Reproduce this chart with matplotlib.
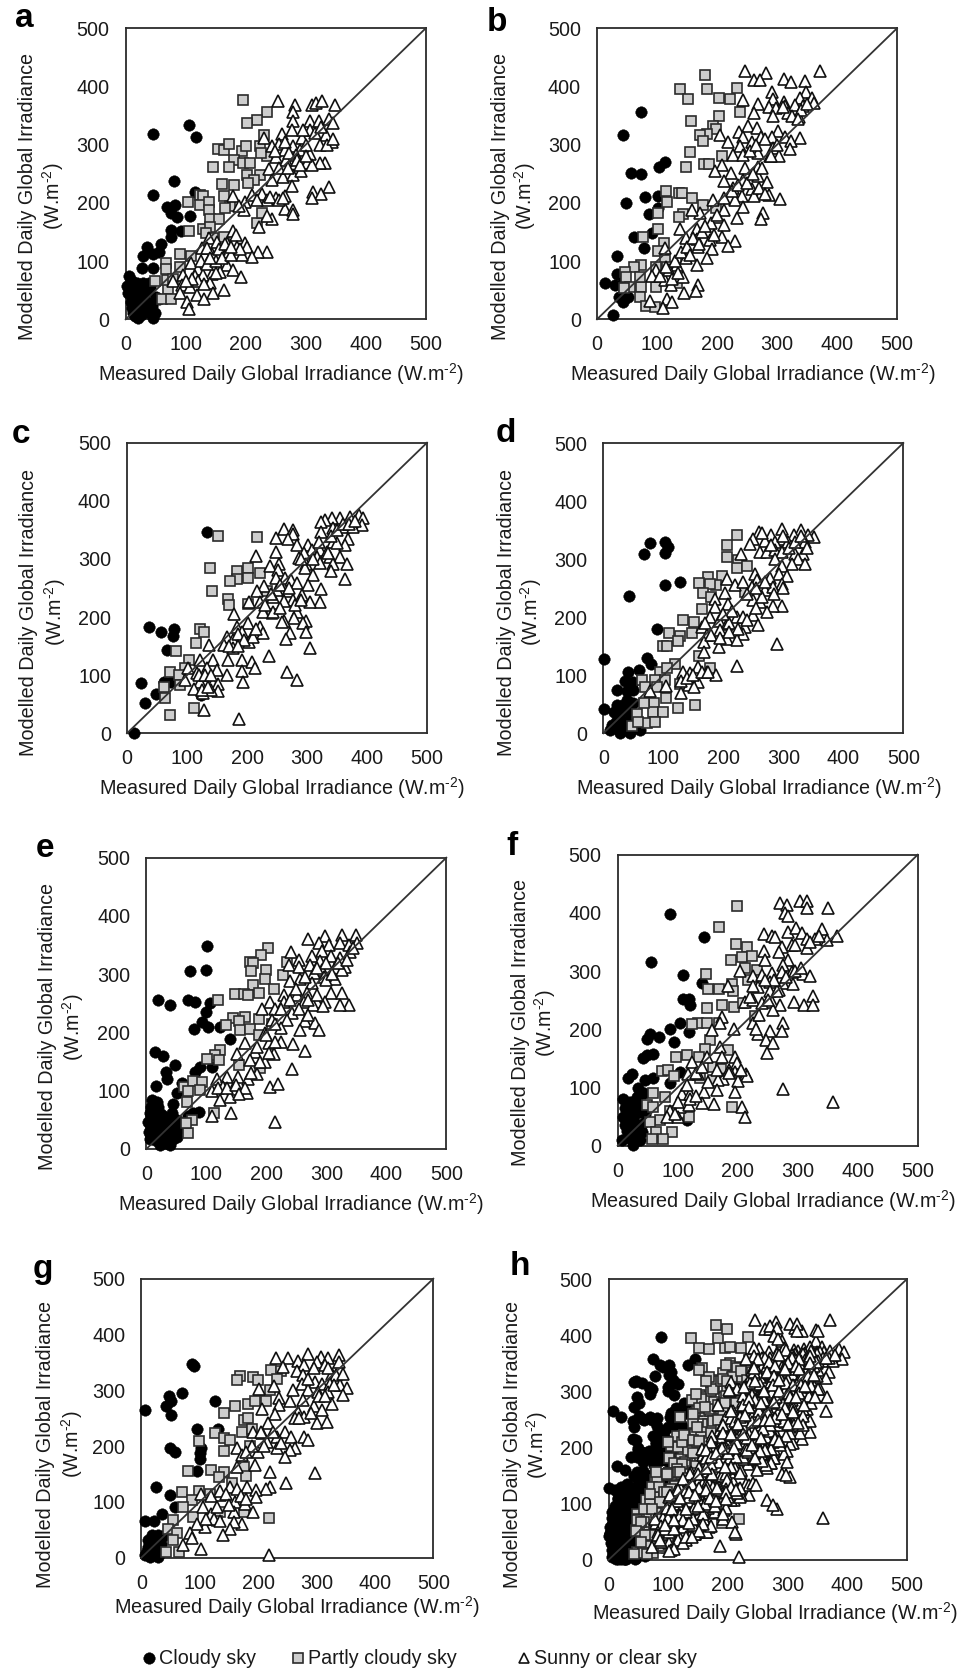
"""
Measured vs modelled daily global irradiance, eight panels by sky type
"""

import matplotlib
matplotlib.use("Agg")
import matplotlib.pyplot as plt
from matplotlib.lines import Line2D

plt.rcParams["font.family"] = ["Liberation Sans", "DejaVu Sans"]
plt.rcParams["mathtext.fontset"] = "custom"
plt.rcParams["mathtext.rm"] = "Liberation Sans"
plt.rcParams["mathtext.default"] = "rm"

W, H = 973, 1671

# (measured, modelled)
a_cloudy = [(46,318),(105,334),(117,314),(81,238),(45,214),(115,219),(68,193),(82,196),(76,182),(85,176),(107,177),
            (75,153),(76,141),(92,152),(36,125),(58,129),(29,109),(46,113),(56,115),(27,88),(45,88),(6,74),(5,58),(8,48),
            (10,65),(12,40),(15,55),(18,62),(20,45),(22,30),(25,55),(28,62),(30,40),(32,58),(35,48),(38,62),(40,55),(15,25),
            (18,15),(22,20),(16,5),(20,2),(25,8),(30,15),(35,12),(38,20),(42,15),(45,3),(48,10),(44,22),(10,20),(12,10),
            (28,30),(35,30),(50,38),(55,35),(8,30),(2,58),(3,45)]
a_partly = [(195,377),(235,356),(218,343),(202,337),(230,317),(154,293),(163,291),(172,301),(194,290),(200,297),(224,298),
            (235,281),(225,285),(181,273),(172,262),(146,261),(196,268),(207,268),(202,248),(224,248),(213,240),(203,234),
            (160,232),(181,230),(124,214),(129,211),(104,202),(124,196),(139,201),(163,211),(174,194),(166,191),(138,188),
            (140,172),(156,172),(218,165),(227,182),(221,205),(129,156),(140,159),(133,148),(105,152),(163,141),(146,139),
            (91,112),(108,108),(67,96),(67,86),(91,90),(49,65),(71,52),(60,35),(75,35),(68,68),(79,70)]
a_sunny = [(253,375),(282,368),(311,368),(317,372),(327,375),(349,368),(278,357),(278,341),(307,341),(322,340),(338,344),
           (346,338),(277,325),(260,318),(307,325),(293,311),(334,317),(343,305),(324,300),(231,311),(243,297),(256,301),
           (279,297),(291,291),(307,284),(266,291),(283,282),(251,279),(267,274),(285,274),(302,268),(332,268),(324,268),
           (310,265),(238,258),(262,245),(279,248),(292,254),(243,239),(277,229),(338,228),(312,219),(325,215),(310,208),
           (266,211),(251,208),(179,211),(199,202),(210,214),(227,216),(235,205),(218,205),(197,188),(188,195),(266,189),
           (278,188),(278,181),(243,172),(235,177),(222,158),(178,151),(184,145),(138,139),(127,122),(152,133),(168,131),
           (198,131),(185,125),(202,125),(235,115),(221,116),(210,107),(193,111),(168,116),(143,113),(135,122),(108,96),
           (121,86),(143,78),(168,93),(179,85),(192,73),(157,82),(129,76),(96,76),(79,65),(93,59),(107,56),(140,62),(163,50),
           (118,42),(130,35),(145,46),(90,45),(102,30),(105,17),
           (115,75),(125,100),(135,95),(150,100),(155,120),(160,105),(175,110),(190,120),(150,80),(140,105),(120,65),(110,70),
           (100,65),(130,60),(165,130),(175,125),(255,260),(270,260),(290,265),(300,300),(315,320),(325,330),(335,300),
           (345,310),(295,325),(265,305),(248,290),(300,280),(272,285),(240,210),(255,205),(262,208)]

b_cloudy = [(74,357),(43,316),(57,251),(73,250),(113,271),(104,261),(49,200),(80,210),(101,212),(86,181),(102,191),(61,141),
            (91,148),(79,122),(33,109),(33,78),(13,62),(30,59),(36,39),(44,30),(52,39),(26,7),(44,73)]
b_partly = [(180,419),(138,395),(184,395),(151,378),(204,380),(222,378),(234,397),(238,357),(156,341),(203,350),(194,332),
            (199,327),(183,319),(172,317),(177,307),(155,287),(149,262),(178,267),(186,267),(208,281),(115,221),(136,217),
            (141,217),(158,209),(117,201),(177,197),(198,192),(144,181),(137,175),(102,182),(102,155),(77,142),(112,131),
            (102,118),(74,93),(61,90),(47,82),(49,72),(74,56),(55,56),(45,53),(71,39),(81,22),(97,21),(113,102),(99,56),
            (116,90),(133,62),(149,105),(72,73),(99,90)]
b_sunny = [(246,427),(281,423),(371,427),(262,411),(271,411),(312,413),(324,408),(347,410),(291,390),(348,390),(243,377),
           (294,378),(311,374),(338,380),(358,380),(362,371),(269,370),(286,364),(299,363),(313,366),(330,368),(344,366),
           (261,354),(294,350),(319,354),(336,348),(252,332),(266,329),(236,321),(301,324),(244,313),(205,316),(274,314),
           (291,314),(313,314),(338,311),(324,307),(218,304),(258,305),(238,297),(294,294),(322,292),(226,283),(244,283),
           (269,285),(288,280),(304,281),(208,265),(196,254),(247,260),(269,262),(224,251),(212,237),(244,240),(269,247),
           (227,225),(258,224),(283,236),(286,214),(305,207),(241,211),(261,211),(230,205),(194,205),(211,208),(277,182),
           (273,172),(244,193),(233,174),(212,188),(172,183),(158,187),(202,176),(212,162),(138,156),(166,156),(183,152),
           (149,139),(166,138),(188,136),(208,141),(230,135),(218,126),(113,123),(192,120),(169,124),(149,105),(183,105),
           (166,93),(133,93),(144,73),(99,85),(91,74),(113,68),(124,59),(169,59),(165,49),(145,45),(116,35),(88,32),(125,29),
           (110,19),
           (120,85),(130,100),(140,115),(150,125),(160,140),(175,150),(190,165),(200,180),(125,70),(135,80),(105,75),(115,90),
           (155,110),(170,130),(180,160),(195,145),(225,220),(235,230),(250,235),(260,250),(270,225),(280,215),(255,290),
           (265,300),(280,310),(300,300),(290,280),(275,260),(310,365),(325,350),(340,360),(350,370),(335,345)]

c_cloudy = [(133,347),(37,183),(57,174),(79,180),(76,168),(66,144),(24,86),(61,89),(74,89),(49,67),(30,52),(12,1),(124,66)]
c_partly = [(152,339),(216,337),(139,285),(202,285),(184,279),(222,276),(184,265),(201,268),(172,262),(142,244),(168,231),
            (170,221),(233,244),(202,223),(241,205),(122,180),(128,175),(115,156),(81,142),(104,126),(72,106),(97,112),
            (86,100),(61,79),(64,60),(71,31),(111,44),(88,83)]
c_sunny = [(386,375),(394,370),(372,372),(355,370),(341,370),(330,367),(324,364),(391,358),(361,355),(344,354),(377,355),
           (323,347),(262,351),(277,350),(249,336),(277,343),(269,335),(369,335),(344,330),(283,324),(302,324),(364,324),
           (350,327),(308,315),(322,315),(333,312),(295,310),(215,305),(249,312),(286,301),(355,304),(338,304),(316,304),
           (299,292),(366,291),(344,292),(322,293),(340,280),(297,284),(310,272),(254,292),(238,287),(252,281),(364,265),
           (228,253),(249,267),(263,267),(273,264),(283,258),(302,255),(323,248),(250,246),(269,244),(216,244),(291,238),
           (244,235),(222,226),(204,226),(277,229),(321,226),(305,226),(261,228),(227,208),(244,209),(179,205),(283,209),
           (278,198),(261,194),(258,192),(299,193),(294,189),(299,175),(272,173),(265,163),(305,147),(183,183),(202,189),
           (222,183),(191,175),(211,172),(227,172),(166,166),(177,160),(204,157),(136,152),(161,152),(177,146),(236,133),
           (144,126),(122,126),(169,126),(191,126),(209,122),(214,113),(191,108),(166,100),(266,106),(283,91),(193,88),
           (102,112),(133,112),(150,109),(116,103),(97,92),(122,89),(144,86),(111,77),(152,85),(151,72),(127,69),(140,74),
           (129,40),(186,25),
           (210,165),(215,180),(185,170),(195,160),(170,150),(185,150),(120,100),(130,100),(140,100),(125,75),(135,80),
           (340,340),(350,350),(360,360),(370,360),(380,365),(335,310),(310,300),(320,330),(290,300),(255,255),(270,250),
           (240,240),(230,220),(255,215),(280,220),(290,230)]

d_cloudy = [(78,327),(102,330),(108,321),(67,308),(103,311),(128,261),(103,255),(42,237),(90,179),(1,128),(72,130),(80,119),
            (41,106),(60,109),(36,90),(50,89),(23,74),(39,72),(50,74),(22,49),(1,42),(39,57),(33,49),(17,37),(28,34),(42,40),
            (50,52),(14,14),(22,9),(28,1),(39,9),(44,1),(33,20),(50,14),(61,6),(22,23),(11,6),(44,26),(53,32),(31,6)]
d_partly = [(222,342),(206,324),(206,304),(225,298),(223,284),(239,289),(175,270),(197,271),(160,259),(188,256),(178,258),
            (166,242),(179,235),(236,243),(164,214),(133,196),(151,192),(110,172),(128,168),(148,173),(124,159),(100,151),
            (106,151),(159,133),(119,120),(178,112),(94,106),(106,112),(65,91),(86,91),(103,92),(128,85),(69,79),(89,79),
            (104,60),(84,53),(125,43),(153,48),(82,37),(100,36),(56,34),(72,17),(86,20),(47,13),(58,20),(67,52)]
d_sunny = [(259,347),(297,352),(329,351),(250,335),(279,342),(351,338),(341,341),(317,341),(270,332),(297,335),(244,326),
           (286,330),(307,330),(336,330),(261,312),(272,312),(286,315),(230,308),(297,312),(333,309),(319,309),(286,301),
           (325,301),(314,292),(336,292),(297,289),(253,275),(292,275),(306,271),(206,266),(219,255),(233,261),(256,264),
           (278,267),(297,258),(203,241),(247,252),(269,246),(283,252),(208,223),(186,232),(250,229),(261,226),(297,220),
           (283,220),(272,209),(186,218),(222,200),(233,200),(250,203),(178,200),(192,194),(206,189),(258,186),(236,183),
           (233,171),(164,183),(194,178),(172,169),(206,163),(222,160),(192,149),(167,158),(290,153),(167,140),(222,116),
           (158,114),(133,106),(144,103),(172,106),(188,101),(158,89),(142,83),(104,81),(129,69),(151,79),(78,72),
           (130,90),(140,95),(150,100),(165,105),(175,105),(210,190),(225,180),(240,195),(255,215),(265,235),(240,240),
           (255,250),(270,260),(285,240),(300,250),(310,320),(320,330),(300,340),(265,345),(280,325),(330,340),(340,320),
           (215,210),(200,205),(170,190),(180,170),(195,165),(210,175)]

e_cloudy = [(101,348),(73,305),(100,308),(20,255),(40,248),(70,255),(81,253),(106,250),(100,236),(92,218),(80,206),(103,210),
            (123,210),(139,188),(14,167),(27,160),(47,145),(32,132),(34,121),(89,141),(81,133),(109,141),(16,108),(59,113),
            (51,96),(9,84),(17,81),(45,78),(6,61),(17,64),(28,56),(3,47),(12,44),(23,44),(37,44),(51,50),(12,30),(23,27),
            (34,30),(48,33),(6,18),(23,7),(39,7),(31,15),(45,18),(14,15),(87,64),(78,61),(62,44),(70,56),(51,21),
            (8,72),(20,72),(30,40),(42,62),(4,30),(25,60),(18,35),(33,10),(15,52),(40,55),(55,35)]
e_partly = [(203,345),(191,333),(173,321),(177,319),(234,321),(175,305),(199,308),(227,298),(197,292),(177,282),(212,274),
            (148,266),(162,266),(170,265),(188,268),(119,255),(164,227),(145,225),(187,223),(133,213),(155,219),(156,205),
            (173,206),(209,214),(188,196),(123,170),(114,162),(101,154),(121,153),(155,144),(189,139),(62,106),(77,116),
            (92,115),(70,99),(89,101),(67,80),(76,50),(113,61),(70,27),(66,44)]
e_sunny = [(270,360),(298,366),(326,367),(349,367),(287,354),(304,351),(351,354),(323,354),(337,351),(241,338),(276,332),
           (293,339),(308,332),(339,338),(254,325),(289,322),(323,328),(237,315),(254,313),(272,316),(293,308),(331,313),
           (314,311),(280,302),(239,288),(256,292),(276,285),(314,292),(326,308),(296,296),(229,265),(251,265),(268,268),
           (307,268),(326,268),(337,248),(323,248),(298,253),(284,253),(206,252),(229,253),(262,253),(278,248),(295,245),
           (192,240),(214,240),(242,233),(234,222),(264,219),(281,216),(209,222),(225,207),(256,205),(288,205),(197,199),
           (164,182),(204,182),(225,183),(244,180),(214,183),(181,167),(212,163),(264,169),(151,163),(172,153),(197,149),
           (242,137),(184,129),(117,121),(134,123),(153,123),(170,121),(128,107),(145,103),(167,96),(109,99),(206,106),
           (220,112),(139,90),(123,84),(141,61),(109,56),(214,46),
           (120,105),(135,105),(150,110),(165,105),(155,95),(175,130),(190,150),(205,165),(185,175),(200,195),(215,215),
           (240,255),(255,240),(270,255),(285,265),(300,290),(310,300),(320,320),(335,325),(345,345),(300,320),(285,310),
           (265,295),(250,275),(270,230),(225,240)]

f_cloudy = [(87,398),(144,358),(56,315),(109,293),(140,280),(109,252),(119,252),(121,242),(103,210),(87,200),(118,196),
            (48,184),(54,192),(68,186),(94,178),(42,150),(48,156),(58,158),(23,124),(17,117),(46,113),(59,116),(104,127),
            (87,107),(34,99),(9,81),(32,84),(43,90),(12,64),(26,67),(18,50),(32,56),(12,36),(26,33),(40,38),(7,10),(18,13),
            (26,1),(37,10),(32,18),(115,44),(40,24),(8,50),(20,75),(35,72),(25,45),(16,25),(45,55),(38,90),(28,20)]
f_partly = [(198,411),(168,375),(197,347),(216,342),(207,325),(188,319),(224,326),(212,305),(147,295),(232,302),(190,277),
            (192,265),(151,270),(169,269),(217,285),(148,236),(173,241),(194,239),(209,245),(229,222),(134,211),(123,209),
            (148,210),(168,211),(154,182),(146,167),(184,165),(97,152),(116,156),(136,152),(159,135),(172,131),(73,129),
            (84,130),(93,120),(137,116),(159,113),(190,66),(59,90),(48,70),(59,67),(79,84),(119,50),(71,44),(54,41),(63,24),
            (90,24),(75,12),(57,12),(87,60)]
f_sunny = [(271,417),(282,413),(304,421),(316,421),(316,408),(351,408),(278,399),(284,394),(243,363),(257,360),(262,359),
           (283,367),(297,374),(307,365),(340,372),(365,360),(348,353),(315,356),(329,356),(290,344),(315,340),(274,341),
           (244,335),(269,333),(246,319),(284,319),(276,311),(204,300),(226,292),(240,293),(257,296),(274,299),(290,299),
           (309,295),(320,291),(184,275),(234,272),(253,281),(276,280),(292,277),(253,265),(268,268),(326,257),(294,247),
           (311,241),(326,241),(212,247),(226,250),(257,247),(271,241),(259,233),(174,221),(226,210),(276,210),(194,200),
           (171,210),(157,198),(254,197),(273,197),(234,192),(247,182),(258,176),(249,160),(171,170),(196,152),(124,144),
           (149,152),(174,152),(198,142),(214,124),(216,119),(134,124),(176,114),(196,126),(201,112),(117,124),(167,113),
           (276,98),(166,96),(196,92),(143,92),(359,75),(107,88),(121,88),(141,73),(160,72),(207,67),(212,50),(104,67),
           (118,70),(87,60),(101,50),(82,50),
           (120,80),(130,85),(100,75),(95,55),(115,105),(130,125),(140,135),(150,110),(165,130),(185,130),(205,130),(185,125),
           (220,255),(240,245),(250,250),(265,265),(280,290),(295,300),(305,305),(260,285),(245,285),(225,275),(235,225),
           (230,200),(295,345),(320,350),(335,360)]

g_cloudy = [(86,347),(91,343),(7,265),(70,296),(47,290),(51,280),(43,272),(50,256),(127,280),(95,231),(132,231),(49,196),
            (58,190),(103,196),(100,187),(100,176),(96,156),(26,126),(49,113),(100,115),(57,91),(35,78),(7,65),(22,65),
            (18,41),(29,41),(12,32),(23,26),(38,38),(6,5),(15,1),(29,2),(18,11),(26,17),(12,20),(20,33),(30,10),(10,12),(33,25)]
g_partly = [(222,336),(240,335),(169,326),(164,318),(191,323),(199,318),(232,321),(220,300),(161,272),(142,260),(183,275),
            (195,280),(213,280),(175,247),(183,250),(172,226),(189,231),(127,223),(142,214),(152,211),(99,209),(142,191),
            (186,201),(80,156),(119,157),(142,154),(133,145),(175,162),(180,147),(156,133),(69,117),(98,120),(118,115),
            (86,103),(72,91),(175,82),(134,82),(129,65),(219,72),(55,67),(46,51),(61,44),(55,32),(42,11),(65,11),(89,73)]
g_sunny = [(231,358),(251,357),(269,353),(285,365),(308,359),(319,357),(338,364),(338,351),(243,341),(279,345),(300,351),
           (314,345),(266,335),(277,327),(326,330),(334,327),(297,315),(276,311),(227,308),(202,303),(309,312),(323,312),
           (340,309),(352,305),(286,300),(303,297),(320,297),(346,291),(236,287),(255,280),(277,282),(235,273),(206,266),
           (327,275),(295,271),(309,264),(229,258),(268,262),(279,253),(263,250),(300,242),(318,243),(217,242),(246,226),
           (192,226),(206,223),(256,217),(279,216),(286,211),(232,217),(215,208),(164,196),(263,196),(254,193),(246,181),
           (232,196),(200,190),(172,184),(195,166),(164,163),(221,154),(297,151),(247,134),(220,127),(213,124),(152,127),
           (164,124),(181,127),(196,121),(134,112),(103,115),(161,100),(196,109),(178,96),(192,82),(120,79),(158,82),(106,91),
           (172,60),(158,64),(152,51),(140,41),(109,55),(95,61),(83,44),(72,23),(102,16),(219,5),(86,35),
           (120,110),(135,120),(145,115),(170,110),(180,105),(125,70),(135,65),(110,70),(130,90),(150,95),(210,200),(225,225),
           (240,205),(205,225),(190,200),(180,190),(270,250),(290,260),(305,290),(315,290),(330,310),(345,330),(285,320),
           (260,300),(295,340),(320,340)]

# panel h pools the seven sites, plus what could only be read in its dense cloudy column
h_cloudy_more = [(10,125),(20,130),(30,135),(35,125),(45,130),(15,110),(25,105),(35,110),(45,105),(10,95),(20,90),(30,85),
                 (40,95),(50,85),(15,75),(25,70),(35,65),(5,85),(5,30),(45,70),(60,190),(70,180),(75,220),(85,230),(90,200),
                 (110,240),(120,260),(100,300),(60,250),(40,215)]
h_cloudy = a_cloudy + b_cloudy + c_cloudy + d_cloudy + e_cloudy + f_cloudy + g_cloudy + h_cloudy_more
h_partly = a_partly + b_partly + c_partly + d_partly + e_partly + f_partly + g_partly
h_sunny = a_sunny + b_sunny + c_sunny + d_sunny + e_sunny + f_sunny + g_sunny

panel_letters = ["a", "b", "c", "d", "e", "f", "g", "h"]
ticks = [0, 100, 200, 300, 400, 500]
x_title = r"Measured Daily Global Irradiance (W.m$^{\text{-}2}$)"
y_title = "Modelled Daily Global Irradiance"
y_unit = r"(W.m$^{\text{-}2}$)"
legend_names = ["Cloudy sky", "Partly cloudy sky", "Sunny or clear sky"]

cloudy_sets = [a_cloudy, b_cloudy, c_cloudy, d_cloudy, e_cloudy, f_cloudy, g_cloudy, h_cloudy]
partly_sets = [a_partly, b_partly, c_partly, d_partly, e_partly, f_partly, g_partly, h_partly]
sunny_sets = [a_sunny, b_sunny, c_sunny, d_sunny, e_sunny, f_sunny, g_sunny, h_sunny]

# pixels: axes left, right, top, bottom
boxes = [(125.7, 425.7, 28.3, 319.3), (597, 897, 28.3, 319.3), (127, 427, 442.7, 733.3), (603.3, 903.3, 443, 733.3),
         (146.3, 446.3, 857.7, 1149), (617.7, 917.7, 854.7, 1145.7), (141.3, 433.3, 1278.7, 1557.7),
         (608.7, 906.7, 1279.3, 1559.7)]
# pixels: y title x, y unit x, y centre, x title x, x title y, letter x, letter baseline
labels = [(28, 53, 196, 281, 374, 15, 27), (500, 525, 196, 753, 374, 487, 31), (29, 55, 612, 282, 788, 12, 443),
          (506, 531, 612, 759, 788, 496, 442), (48, 73, 1027, 301, 1204, 36, 857), (521, 545, 1023, 773, 1201, 506, 855),
          (46, 72, 1444, 297, 1607, 33, 1278), (512, 537, 1445, 775, 1613, 510, 1275)]

DARK = "#2b2b2b"
GREY = "#cdcdcd"
TXT = "#1a1a1a"
FS = 14.2


def fx(px):
    return px / W


def fy(py):
    return 1 - py / H


def draw_marks(ax, points, marker, **style):
    xs = [p[0] for p in points]
    ys = [p[1] for p in points]
    ax.plot(xs, ys, linestyle="none", marker=marker, clip_on=False, **style)


def main():
    fig = plt.figure(figsize=(W / 100, H / 100), dpi=100)

    for i, letter in enumerate(panel_letters):
        left, right, top, bottom = boxes[i]
        ax = fig.add_axes([fx(left), fy(bottom), (right - left) / W, (bottom - top) / H])
        ax.set_xlim(0, 500)
        ax.set_ylim(0, 500)
        ax.set_xticks(ticks)
        ax.set_yticks(ticks)
        ax.tick_params(length=0, pad=11.5, labelsize=FS, labelcolor=TXT)
        for spine in ax.spines.values():
            spine.set_linewidth(1.3)
            spine.set_color(DARK)

        draw_marks(ax, cloudy_sets[i], "o", ms=8.3, mfc="black", mec="black", mew=0.3, zorder=3)
        draw_marks(ax, partly_sets[i], "s", ms=7.2, mfc=GREY, mec=DARK, mew=1.2, zorder=4)
        draw_marks(ax, sunny_sets[i], "^", ms=8.0, mfc="white", mec="#111111", mew=1.2, zorder=5)
        ax.plot([0, 500], [0, 500], color="#333333", lw=1.3, clip_on=False, zorder=6)

        y_x, unit_x, y_c, x_x, x_y, let_x, let_y = labels[i]
        fig.text(fx(y_x), fy(y_c), y_title, rotation=90, ha="center", va="center", fontsize=FS, color=TXT)
        fig.text(fx(unit_x), fy(y_c), y_unit, rotation=90, ha="center", va="center", fontsize=FS, color=TXT)
        fig.text(fx(x_x), fy(x_y), x_title, ha="center", va="center", fontsize=FS, color=TXT)
        fig.text(fx(let_x), fy(let_y), letter, ha="left", va="baseline", fontsize=24, fontweight="bold", color="black")

    # legend along the bottom
    legend_x = [149, 298, 524]
    legend_styles = [dict(marker="o", ms=8.3, mfc="black", mec="black", mew=0.3),
                     dict(marker="s", ms=7.2, mfc=GREY, mec=DARK, mew=1.2),
                     dict(marker="^", ms=7.0, mfc="white", mec="#111111", mew=1.2)]
    for lx, name, style in zip(legend_x, legend_names, legend_styles):
        fig.add_artist(Line2D([fx(lx)], [fy(1658)], linestyle="none", transform=fig.transFigure, **style))
        fig.text(fx(lx + 10), fy(1658), name, ha="left", va="center", fontsize=FS, color=TXT)

    fig.savefig("out.png", dpi=100)


if __name__ == "__main__":
    main()
